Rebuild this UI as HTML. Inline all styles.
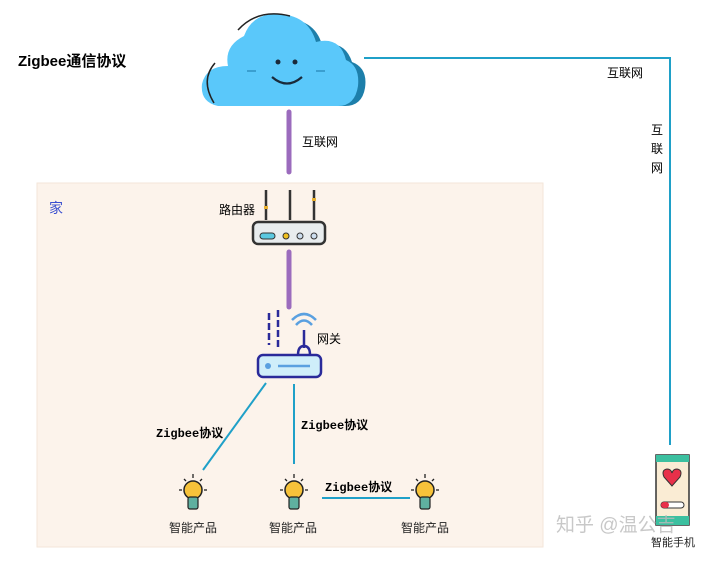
<!DOCTYPE html>
<html><head><meta charset="utf-8"><style>
body{margin:0;width:710px;height:556px;background:#fff;overflow:hidden;font-family:"Liberation Sans","Noto Sans CJK SC",sans-serif}
</style></head><body>
<svg width="710" height="556" viewBox="0 0 710 556" xmlns="http://www.w3.org/2000/svg" font-family="Liberation Sans, Noto Sans CJK SC, sans-serif">
<defs>
<g id="b">
<circle cx="0" cy="0" r="9" fill="#f6c23a" stroke="#222" stroke-width="1.5"/>
<rect x="-5" y="7" width="10" height="12" rx="2" fill="#5fb0a0" stroke="#222" stroke-width="1.2"/>
<g stroke="#222" stroke-width="1.3"><line x1="0" y1="-16" x2="0" y2="-12"/><line x1="-14" y1="0" x2="-11" y2="0"/><line x1="11" y1="0" x2="14" y2="0"/><line x1="-9" y1="-11" x2="-7" y2="-9"/><line x1="9" y1="-11" x2="7" y2="-9"/></g>
</g>
</defs>
<rect x="37" y="183" width="506" height="364" fill="#fcf3eb" stroke="#f3e6da"/>
<!-- cloud -->
<g>
<path d="M222,106 Q205,104 208,85 Q212,68 232,70 Q228,48 248,40 Q255,18 280,18 Q315,18 322,45 Q345,40 352,62 Q368,68 365,88 Q362,106 345,106 Z" fill="#1d7faa"/>
<path d="M218,106 Q200,102 202,84 Q206,66 228,66 Q224,46 244,36 Q252,14 276,14 Q308,14 316,42 Q340,36 346,60 Q360,66 358,86 Q355,106 338,106 Z" fill="#5ac8fa"/>
<path d="M238,30 Q258,8 290,16" fill="none" stroke="#222" stroke-width="1.5"/>
<path d="M215,63 Q200,80 214,103" fill="none" stroke="#222" stroke-width="1.5"/>
<circle cx="278" cy="62" r="2.5" fill="#1a2a3a"/><circle cx="295" cy="62" r="2.5" fill="#1a2a3a"/>
<path d="M272,77 Q287,90 302,77" fill="none" stroke="#1a2a3a" stroke-width="2.2"/>
<line x1="247" y1="71" x2="256" y2="71" stroke="#3a9fd0" stroke-width="2"/>
<line x1="316" y1="71" x2="325" y2="71" stroke="#3a9fd0" stroke-width="2"/>
</g>
<text x="18" y="66" font-size="15" font-weight="bold" fill="#000">Zigbee通信协议</text>
<polyline points="364,58 670,58 670,445" fill="none" stroke="#1fa0c8" stroke-width="2"/>
<text x="607" y="77" font-size="12">互联网</text>
<text x="651" y="134" font-size="12">互</text><text x="651" y="153" font-size="12">联</text><text x="651" y="172" font-size="12">网</text>
<line x1="289" y1="112" x2="289" y2="172" stroke="#9b6bbd" stroke-width="5" stroke-linecap="round"/>
<text x="302" y="146" font-size="12">互联网</text>
<text x="49" y="213" font-size="14" fill="#3a4fd0">家</text>
<text x="219" y="214" font-size="12">路由器</text>
<g stroke="#333" stroke-width="2.5"><line x1="266" y1="190" x2="266" y2="220"/><line x1="290" y1="190" x2="290" y2="220"/><line x1="314" y1="190" x2="314" y2="220"/></g>
<rect x="264" y="206" width="4" height="3" fill="#e8b030"/><rect x="312" y="198" width="4" height="3" fill="#e8b030"/>
<rect x="253" y="222" width="72" height="22" rx="5" fill="#e8ecee" stroke="#333" stroke-width="2.5"/>
<rect x="260" y="233" width="15" height="6" rx="3" fill="#5ac8e0" stroke="#333"/>
<circle cx="286" cy="236" r="3" fill="#f0c020" stroke="#333"/><circle cx="300" cy="236" r="3" fill="#cde" stroke="#333"/><circle cx="314" cy="236" r="3" fill="#cde" stroke="#333"/>
<line x1="289" y1="252" x2="289" y2="307" stroke="#9b6bbd" stroke-width="5" stroke-linecap="round"/>
<g stroke="#2a2a9a" stroke-width="2.5" stroke-dasharray="7,3"><line x1="269" y1="313" x2="269" y2="345"/><line x1="278" y1="310" x2="278" y2="348"/></g>
<path d="M296,325 Q304,316 312,325" fill="none" stroke="#5aa0e0" stroke-width="2.5"/>
<path d="M292,320 Q304,308 316,320" fill="none" stroke="#5aa0e0" stroke-width="2.5"/>
<line x1="304" y1="330" x2="304" y2="348" stroke="#2a2a9a" stroke-width="2.5"/>
<path d="M298,355 Q298,346 304,346 Q310,346 310,355" fill="none" stroke="#2a2a9a" stroke-width="2.5"/>
<text x="317" y="343" font-size="12">网关</text>
<rect x="258" y="355" width="63" height="22" rx="5" fill="#cfeefa" stroke="#2a2a9a" stroke-width="2.5"/>
<circle cx="268" cy="366" r="3" fill="#5aa0e0"/><line x1="278" y1="366" x2="310" y2="366" stroke="#5aa0e0" stroke-width="2.5"/>
<g stroke="#1fa0c8" stroke-width="2"><line x1="266" y1="383" x2="203" y2="470"/><line x1="294" y1="384" x2="294" y2="464"/><line x1="322" y1="498" x2="410" y2="498"/></g>
<g font-family="Liberation Mono, Noto Sans CJK SC, monospace" font-size="12" font-weight="bold">
<text x="156" y="437">Zigbee协议</text><text x="301" y="429">Zigbee协议</text><text x="325" y="491">Zigbee协议</text></g>
<use href="#b" x="193" y="490"/><use href="#b" x="294" y="490"/><use href="#b" x="425" y="490"/>
<g font-size="12" fill="#222"><text x="169" y="532">智能产品</text><text x="269" y="532">智能产品</text><text x="401" y="532">智能产品</text></g>
<rect x="656" y="455" width="33" height="70" fill="#faecd4" stroke="#333" stroke-width="1.5"/>
<rect x="656" y="455" width="33" height="7" fill="#3cc0a0"/><rect x="656" y="516" width="33" height="9" fill="#3cc0a0"/>
<path d="M672,486 L664,477 Q661,470 667,469 Q671,469 672,473 Q673,469 677,469 Q683,470 680,477 Z" fill="#e8304a" stroke="#333"/>
<rect x="661" y="502" width="23" height="6" rx="3" fill="#fff" stroke="#333"/><rect x="661" y="502" width="8" height="6" rx="3" fill="#e8304a"/>
<text x="556" y="531" font-size="19" fill="#bbb" opacity="0.8">知乎 @温公吉</text>
<text x="651" y="546" font-size="11" fill="#222">智能手机</text>
</svg>
</body></html>
